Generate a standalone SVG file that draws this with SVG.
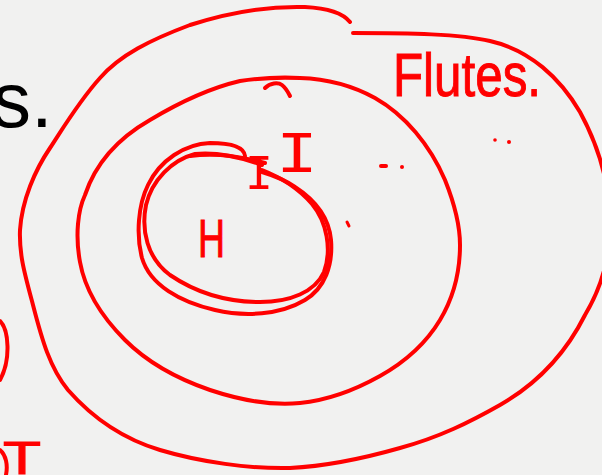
<svg xmlns="http://www.w3.org/2000/svg" width="602" height="475" viewBox="0 0 602 475">
<style>
.ink{fill:none;stroke:#ff0000;stroke-width:4;stroke-linecap:round;stroke-linejoin:round}
.hand{fill:#ff0000;stroke:#ff0000;stroke-width:1;font-family:"Liberation Sans","DejaVu Sans",sans-serif}
.handserif{fill:#ff0000;font-family:"Liberation Mono","DejaVu Sans Mono",monospace}
.dot{fill:#ff0000}
</style>
<rect x="0" y="0" width="602" height="475" fill="#f1f1f0"/>
<text x="-8" y="127" font-family="'Liberation Sans',Arial,sans-serif" font-size="78" fill="#000">s.</text>
<g id="outer-ring">
<path class="ink" d="M353,33 C410,33 460,34 490,41 C530,50 560,78 580,112 C598,145 610,185 610,225 C610,260 600,290 585,315 C565,355 535,385 500,405 C470,422 440,437 400,448 C365,458 330,466 290,468 C250,469 200,462 160,450 C120,438 90,415 68,390 C50,368 42,340 33,305 C25,275 19,255 20,230 C22,200 35,170 50,148 C65,125 80,100 100,78 C120,55 150,40 190,25 C230,12 270,6 305,7 C325,8 342,12 350,22"/>
<text class="hand" x="393" y="96" font-size="62" textLength="148" lengthAdjust="spacingAndGlyphs">Flutes.</text>
</g>
<g id="middle-ring">
<path class="ink" d="M300,78 C330,79 355,87 375,98 C405,115 430,145 445,180 C455,205 460,225 460,245 C460,275 452,300 440,320 C425,345 405,362 380,376 C355,390 330,400 300,403 C270,406 240,400 210,390 C175,378 145,360 125,340 C100,315 85,290 80,262 C75,235 78,210 85,195 C95,165 115,140 150,120 C180,102 210,88 240,81 C260,78 280,77 300,78 Z"/>
<path class="ink" d="M265,88 C270,83 278,82 282,85 C286,88 288,92 290,96"/>
<text class="handserif" x="276" y="172" font-size="60" textLength="42" lengthAdjust="spacingAndGlyphs">I</text>
</g>
<g id="inner-ring">
<path class="ink" d="M245,156 C244,147 232,143 210,143 C185,144 160,160 148,185 C138,205 136,235 142,258 C150,285 180,302 215,310 C245,317 280,315 305,300 C325,288 333,265 331,240 C329,218 315,200 295,187 C285,180 272,175 262,172"/>
<path class="ink" d="M262,165 C240,157 215,152 195,154 C172,160 152,180 146,205 C141,230 147,258 170,275 C195,292 225,302 260,302 C290,302 315,292 324,272 C332,250 327,222 312,204 C298,188 280,177 262,170"/>
<path class="ink" d="M190,156 C220,152 245,158 265,163"/>
<text class="handserif" x="245" y="189" font-size="50" textLength="28" lengthAdjust="spacingAndGlyphs">I</text>
<text class="hand" x="198" y="257" font-size="54" textLength="27" lengthAdjust="spacingAndGlyphs">H</text>
</g>
<g id="marks">
<path class="ink" d="M381,166 L386,166"/>
<circle class="dot" cx="402" cy="167" r="2"/>
<circle class="dot" cx="495" cy="140" r="1.8"/>
<circle class="dot" cx="509" cy="142" r="2"/>
<path class="ink" d="M347,222 L349,226" style="stroke-width:3"/>
<path class="ink" d="M0,321 C9,330 11,360 0,380"/>
<path class="ink" d="M0,450 C6,455 8,465 6,475"/>
<text class="hand" x="3" y="474" font-size="46" textLength="38" lengthAdjust="spacingAndGlyphs">T</text>
</g>
</svg>
